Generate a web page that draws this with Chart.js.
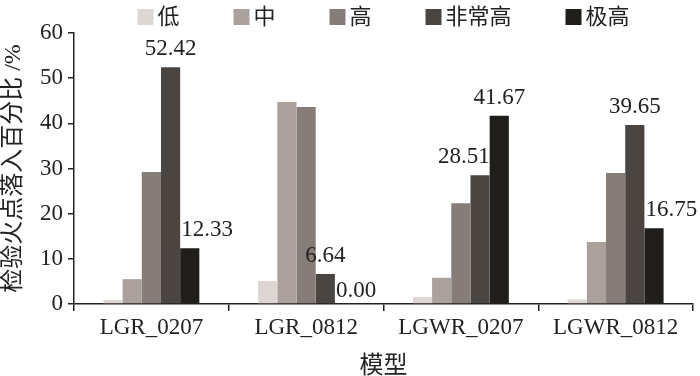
<!DOCTYPE html>
<html>
<head>
<meta charset="utf-8">
<script src="https://cdn.jsdelivr.net/npm/chart.js@4/dist/chart.umd.min.js"></script>
<style>
  html, body { margin: 0; padding: 0; background: #fff; }
  #wrap { width: 700px; height: 376px; }
</style>
</head>
<body>
<div id="wrap"><canvas id="chart"></canvas></div>
<script>
// categories + series
const models = ['LGR_0207', 'LGR_0812', 'LGWR_0207', 'LGWR_0812'];
const levels = ['低', '中', '高', '非常高', '极高'];
const lowVals = [0.9, 5.1, 1.5, 1.0];
const midVals = [5.5, 44.7, 5.8, 13.7];
const highVals = [29.2, 43.6, 22.3, 29.0];
const veryHighVals = [52.42, 6.64, 28.51, 39.65];
const extremeVals = [12.33, 0.00, 41.67, 16.75];
const yTicks = [0, 10, 20, 30, 40, 50, 60];

const colours = ['#ddd6d2', '#aaa19c', '#867d78', '#4a4540', '#201e1b'];
const serif = '"Liberation Serif", "Noto Sans CJK SC", serif';
const ink = '#222';

// only the two darkest series carry value labels; how each one sits over its bar
const labelAlign = {
    3: ['center', 'center', 'right', 'center'],
    4: ['left', 'left', 'center', 'left']
};

const valueLabels = {
    id: 'valueLabels',
    afterDatasetsDraw(chart) {
        const ctx = chart.ctx;
        ctx.save();
        ctx.font = '23px ' + serif;
        ctx.fillStyle = ink;
        ctx.textBaseline = 'alphabetic';
        Object.keys(labelAlign).forEach(di => {
            const meta = chart.getDatasetMeta(+di);
            const data = chart.data.datasets[di].data;
            meta.data.forEach((bar, i) => {
                const { x, y, width } = bar.getProps(['x', 'y', 'width']);
                const align = labelAlign[di][i];
                let tx = x;
                if (align === 'left') tx = x - width / 2 + 1;
                if (align === 'right') tx = x + width / 2;
                ctx.textAlign = align;
                const lift = data[i] === 0 ? 7 : 12;
                ctx.fillText(data[i].toFixed(2), tx, y - lift);
            });
        });
        ctx.restore();
    }
};

// legend drawn by hand so the spacing matches (box, small gap, wide gap)
const topLegend = {
    id: 'topLegend',
    afterDraw(chart) {
        const ctx = chart.ctx;
        const area = chart.chartArea;
        const box = 16, gap = 4, itemGap = 54;
        ctx.save();
        ctx.font = '22px ' + serif;
        const widths = levels.map(t => box + gap + ctx.measureText(t).width);
        const total = widths.reduce((a, b) => a + b, 0) + itemGap * (levels.length - 1);
        let x = (area.left + area.right) / 2 - total / 2;
        ctx.textBaseline = 'middle';
        ctx.textAlign = 'left';
        levels.forEach((t, i) => {
            ctx.fillStyle = colours[i];
            ctx.fillRect(x, 9, box, box);
            ctx.fillStyle = ink;
            ctx.fillText(t, x + box + gap, 18);
            x += widths[i] + itemGap;
        });
        ctx.restore();
    }
};

const seriesVals = [lowVals, midVals, highVals, veryHighVals, extremeVals];
const datasets = levels.map((name, i) => ({
    label: name,
    data: seriesVals[i],
    backgroundColor: colours[i],
    borderWidth: 0,
    categoryPercentage: 0.62,
    barPercentage: 1.0
}));

const ctx = document.getElementById('chart').getContext('2d');
new Chart(ctx, {
    type: 'bar',
    data: { labels: models, datasets },
    options: {
        responsive: true,
        maintainAspectRatio: false,
        animation: false,
        layout: { padding: { top: 33, right: 7, left: 0, bottom: 0 } },
        plugins: {
            legend: { display: false },
            tooltip: { enabled: false }
        },
        scales: {
            x: {
                afterFit: (scale) => { scale.height = 72; },
                grid: { drawOnChartArea: false, drawTicks: true, tickLength: 7, color: ink, lineWidth: 1.5 },
                border: { display: true, color: ink, width: 1.5 },
                ticks: { color: ink, padding: 3, font: { family: serif, size: 23 } },
                title: {
                    display: true,
                    text: '模型',
                    color: ink,
                    font: { family: serif, size: 24, lineHeight: 0.75 },
                    padding: { top: 0, bottom: 0 }
                }
            },
            y: {
                min: 0,
                max: 60,
                afterFit: (scale) => { scale.width = 74; },
                afterBuildTicks: (scale) => { scale.ticks = yTicks.map(v => ({ value: v })); },
                grid: { drawOnChartArea: false, drawTicks: true, tickLength: 6, color: ink, lineWidth: 1.5 },
                border: { display: true, color: ink, width: 1.5 },
                ticks: { color: ink, padding: 5, font: { family: serif, size: 23 } },
                title: {
                    display: true,
                    text: '检验火点落入百分比 /%',
                    color: ink,
                    font: { family: serif, size: 24, lineHeight: 1 },
                    padding: { top: 2, bottom: 0 }
                }
            }
        }
    },
    plugins: [valueLabels, topLegend]
});
</script>
</body>
</html>
